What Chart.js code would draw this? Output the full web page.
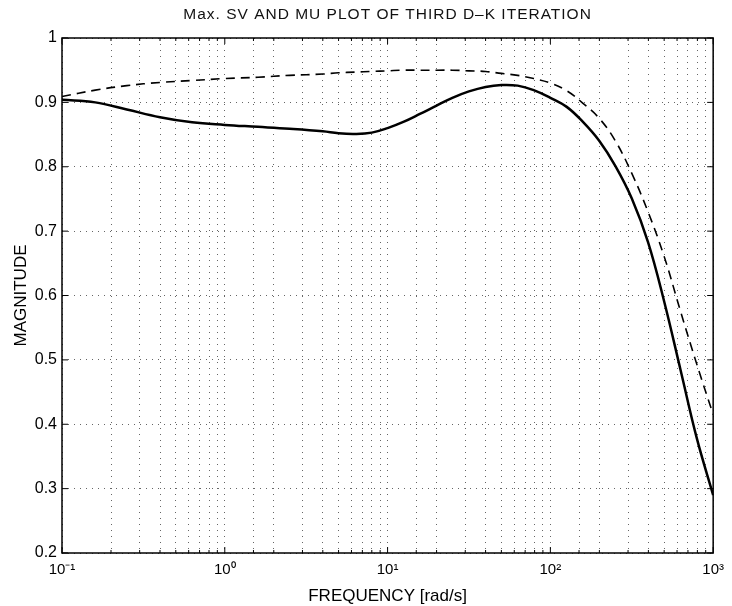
<!DOCTYPE html>
<html>
<head>
<meta charset="utf-8">
<title>Max. SV and MU plot</title>
<script src="https://cdn.jsdelivr.net/npm/chart.js@4.4.0/dist/chart.umd.min.js"></script>
<style>
  html, body { margin: 0; padding: 0; background: #fff; }
  #wrap { width: 732px; height: 606px; }
</style>
</head>
<body>
<div id="wrap"><canvas id="muChart" width="732" height="606"></canvas></div>
<script>
// frequency points [rad/s]
const freq = [0.1, 0.16, 0.25, 0.4, 0.63, 1, 1.6, 2.5, 4, 5, 6.3, 8,
  10, 12.6, 15.8, 20, 25, 31.6, 40, 50, 63, 79,
  100, 126, 158, 200, 251, 316, 398, 501, 631, 794, 1000];
// mu upper bound (solid)
const muBound = [0.904, 0.900, 0.889, 0.877, 0.869, 0.865, 0.862, 0.859, 0.855, 0.852, 0.851, 0.853,
  0.860, 0.870, 0.882, 0.895, 0.907, 0.917, 0.924, 0.927, 0.926, 0.919,
  0.907, 0.893, 0.870, 0.840, 0.801, 0.751, 0.683, 0.590, 0.484, 0.378, 0.290];
// max singular value (dashed)
const maxSV = [0.909, 0.919, 0.926, 0.931, 0.934, 0.937, 0.939, 0.942, 0.944, 0.946, 0.947, 0.948,
  0.949, 0.950, 0.950, 0.950, 0.950, 0.949, 0.948, 0.945, 0.942, 0.937,
  0.930, 0.918, 0.899, 0.875, 0.840, 0.790, 0.730, 0.660, 0.575, 0.493, 0.415];
const yTicks = [0.2, 0.3, 0.4, 0.5, 0.6, 0.7, 0.8, 0.9, 1];
const supers = { '-1': '\u207B\u00B9', '0': '\u2070', '1': '\u00B9', '2': '\u00B2', '3': '\u00B3' };

const FONT = '"Liberation Sans", Arial, Helvetica, sans-serif';
const pts = vals => freq.map((f, i) => ({ x: f, y: vals[i] }));
const isDecade = v => Math.abs(Math.log10(v) - Math.round(Math.log10(v))) < 1e-9;

// box, inward ticks and title
const frame = {
  id: 'frame',
  afterDraw(chart) {
    const { ctx, chartArea: a, scales } = chart;
    ctx.save();
    ctx.strokeStyle = '#000';
    ctx.lineWidth = 1.5;
    ctx.setLineDash([]);
    ctx.strokeRect(a.left, a.top, a.right - a.left, a.bottom - a.top);
    ctx.lineWidth = 1;
    ctx.beginPath();
    scales.y.ticks.forEach(t => {
      const y = scales.y.getPixelForValue(t.value);
      ctx.moveTo(a.left, y); ctx.lineTo(a.left + 6, y);
      ctx.moveTo(a.right, y); ctx.lineTo(a.right - 6, y);
    });
    scales.x.ticks.forEach(t => {
      const x = scales.x.getPixelForValue(t.value);
      const len = isDecade(t.value) ? 6 : 3;
      ctx.moveTo(x, a.bottom); ctx.lineTo(x, a.bottom - len);
      ctx.moveTo(x, a.top); ctx.lineTo(x, a.top + len);
    });
    ctx.stroke();
    ctx.fillStyle = '#111';
    ctx.font = '15.5px ' + FONT;
    ctx.letterSpacing = '1px';
    ctx.textAlign = 'center';
    ctx.textBaseline = 'middle';
    ctx.fillText('Max. SV AND MU PLOT OF THIRD D\u2013K ITERATION', (a.left + a.right) / 2, 15);
    ctx.restore();
  }
};

new Chart(document.getElementById('muChart'), {
  type: 'line',
  data: {
    datasets: [
      {
        label: 'mu',
        data: pts(muBound),
        borderColor: '#000',
        borderWidth: 2.5,
        pointRadius: 0,
        tension: 0.4
      },
      {
        label: 'max sv',
        data: pts(maxSV),
        borderColor: '#000',
        borderWidth: 1.6,
        borderDash: [9, 6],
        pointRadius: 0,
        tension: 0.4
      }
    ]
  },
  plugins: [frame],
  options: {
    responsive: false,
    animation: false,
    layout: { padding: { top: 38, right: 15, left: 0, bottom: 0 } },
    plugins: { legend: { display: false }, tooltip: { enabled: false } },
    scales: {
      x: {
        type: 'logarithmic',
        min: 0.1,
        max: 1000,
        afterFit: s => { s.height = 53; },
        grid: { color: '#666', lineWidth: 1, drawTicks: false },
        border: { display: false, dash: [1, 5] },
        ticks: {
          color: '#000',
          font: { family: FONT, size: 15 },
          padding: 8,
          autoSkip: false,
          maxRotation: 0,
          callback: v => isDecade(v) ? '10' + supers[String(Math.round(Math.log10(v)))] : ''
        },
        title: {
          display: true,
          text: 'FREQUENCY [rad/s]',
          color: '#000',
          font: { family: FONT, size: 17 },
          padding: { top: 0, bottom: -1 }
        }
      },
      y: {
        min: 0.2,
        max: 1,
        afterFit: s => { s.width = 62; },
        afterBuildTicks: s => { s.ticks = yTicks.map(v => ({ value: v })); },
        grid: { color: '#666', lineWidth: 1, drawTicks: false },
        border: { display: false, dash: [1, 5] },
        ticks: {
          color: '#000',
          font: { family: FONT, size: 16 },
          padding: 5,
          callback: v => String(+v.toFixed(1))
        },
        title: {
          display: true,
          text: 'MAGNITUDE',
          color: '#000',
          font: { family: FONT, size: 17 },
          padding: { top: 11, bottom: 0 }
        }
      }
    }
  }
});
</script>
</body>
</html>
